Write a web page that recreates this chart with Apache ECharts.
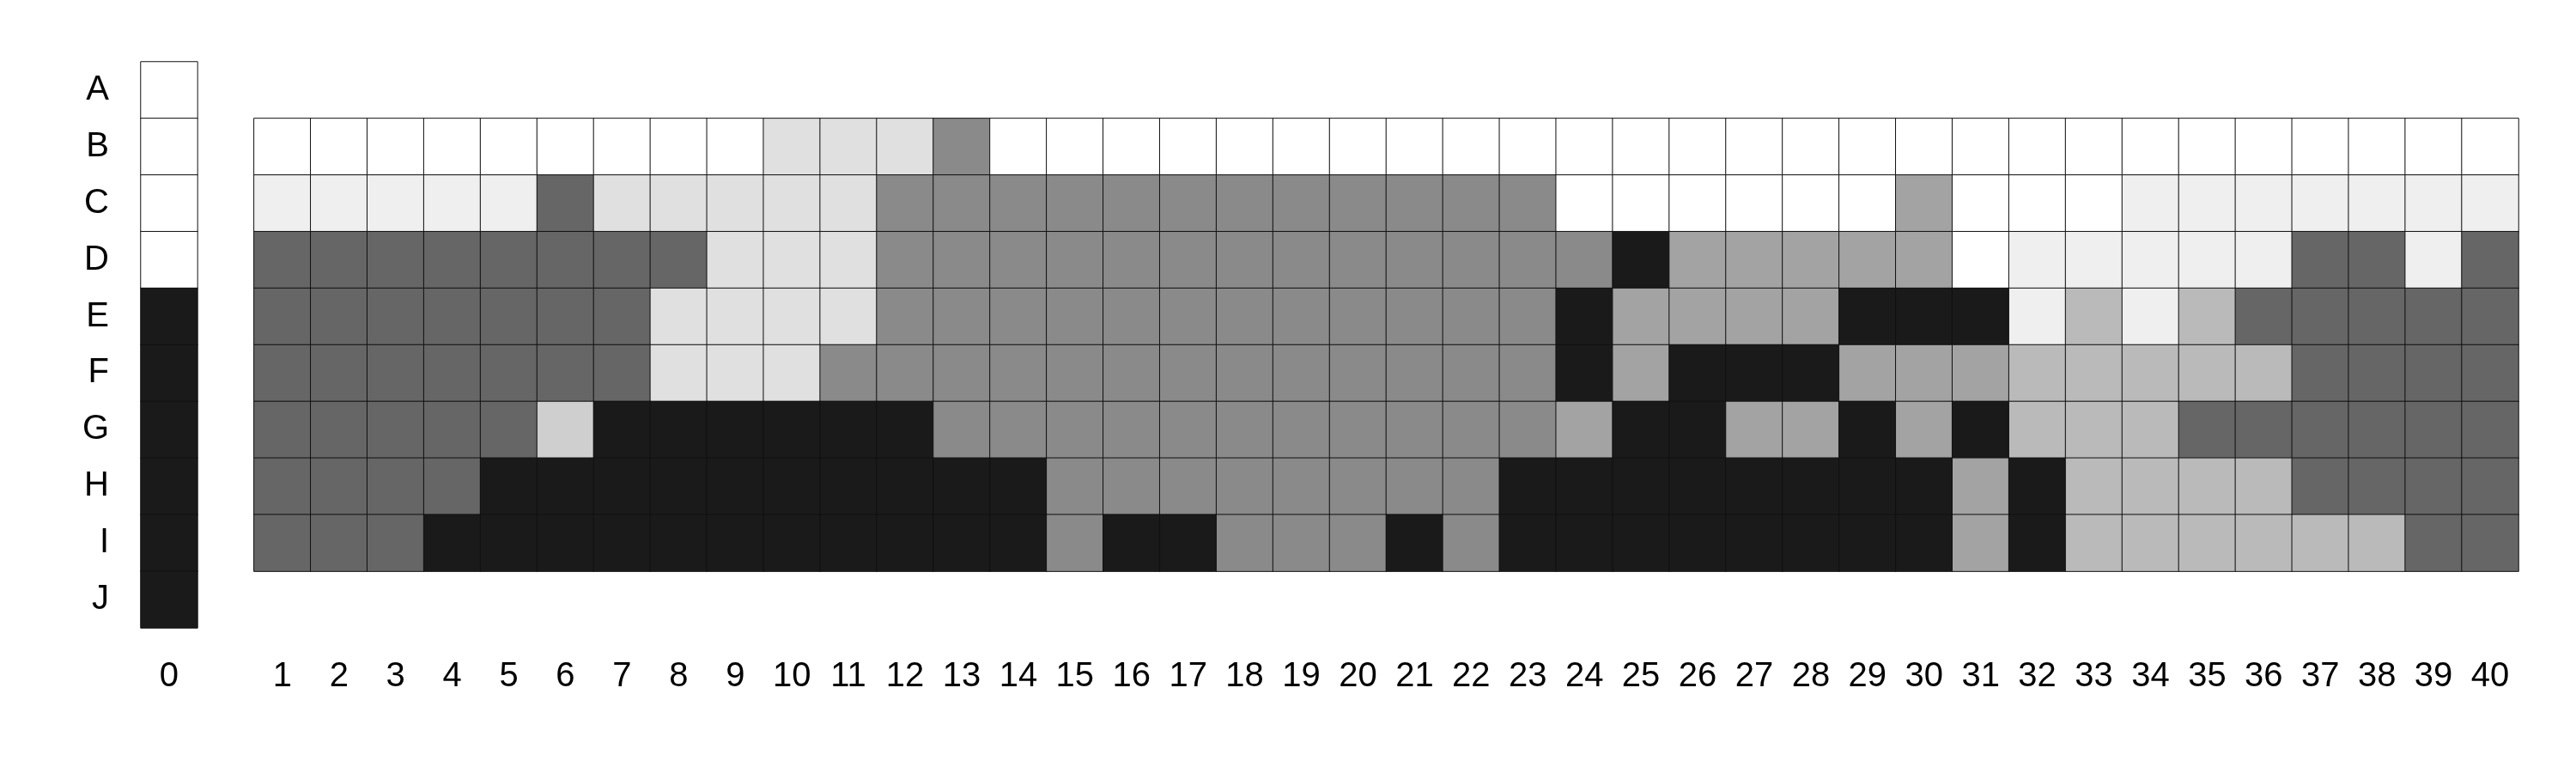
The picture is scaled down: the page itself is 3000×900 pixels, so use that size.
<!DOCTYPE html>
<html>
<head>
<meta charset="utf-8">
<script src="https://cdn.jsdelivr.net/npm/echarts@6/dist/echarts.min.js"></script>
<style>
html,body{margin:0;padding:0;background:#fff;}
#chart{width:3000px;height:900px;}
</style>
</head>
<body>
<div id="chart"></div>
<script>
// x categories: column 0, an empty spacer slot, then columns 1..40
const xLabels = ['0', '', '1','2','3','4','5','6','7','8','9','10','11','12','13','14','15','16','17','18','19','20',
  '21','22','23','24','25','26','27','28','29','30','31','32','33','34','35','36','37','38','39','40'];
const yLabels = ['A','B','C','D','E','F','G','H','I','J'];

// grey levels: 0 white ... 8 near-black
const levelColors = ['#ffffff','#efefef','#e0e0e0','#cfcfcf','#bababa','#a3a3a3','#8a8a8a','#666666','#1a1a1a'];

// column 0, rows A..J
const col0 = [0,0,0,0,8,8,8,8,8,8];

// columns 1..40 for rows B..I
const rowB = [0,0,0,0,0,0,0,0,0,2,2,2,6,0,0,0,0,0,0,0,0,0,0,0,0,0,0,0,0,0,0,0,0,0,0,0,0,0,0,0];
const rowC = [1,1,1,1,1,7,2,2,2,2,2,6,6,6,6,6,6,6,6,6,6,6,6,0,0,0,0,0,0,5,0,0,0,1,1,1,1,1,1,1];
const rowD = [7,7,7,7,7,7,7,7,2,2,2,6,6,6,6,6,6,6,6,6,6,6,6,6,8,5,5,5,5,5,0,1,1,1,1,1,7,7,1,7];
const rowE = [7,7,7,7,7,7,7,2,2,2,2,6,6,6,6,6,6,6,6,6,6,6,6,8,5,5,5,5,8,8,8,1,4,1,4,7,7,7,7,7];
const rowF = [7,7,7,7,7,7,7,2,2,2,6,6,6,6,6,6,6,6,6,6,6,6,6,8,5,8,8,8,5,5,5,4,4,4,4,4,7,7,7,7];
const rowG = [7,7,7,7,7,3,8,8,8,8,8,8,6,6,6,6,6,6,6,6,6,6,6,5,8,8,5,5,8,5,8,4,4,4,7,7,7,7,7,7];
const rowH = [7,7,7,7,8,8,8,8,8,8,8,8,8,8,6,6,6,6,6,6,6,6,8,8,8,8,8,8,8,8,5,8,4,4,4,4,7,7,7,7];
const rowI = [7,7,7,8,8,8,8,8,8,8,8,8,8,8,6,8,8,6,6,6,8,6,8,8,8,8,8,8,8,8,5,8,4,4,4,4,4,4,7,7];

const mainRows = {B: rowB, C: rowC, D: rowD, E: rowE, F: rowF, G: rowG, H: rowH, I: rowI};

const data = [];
col0.forEach((v, r) => data.push([0, r, v]));
Object.keys(mainRows).forEach(name => {
  const r = yLabels.indexOf(name);
  mainRows[name].forEach((v, c) => data.push([c + 2, r, v]));
});

const chart = echarts.init(document.getElementById('chart'), null, {renderer: 'canvas'});
chart.setOption({
  animation: false,
  backgroundColor: '#ffffff',
  grid: {left: 164, right: 67, top: 72, bottom: 169, containLabel: false},
  xAxis: {
    type: 'category',
    data: xLabels,
    axisLine: {show: false},
    axisTick: {show: false},
    splitLine: {show: false},
    axisLabel: {interval: 0, margin: 37, fontSize: 40, color: '#000', fontFamily: 'Liberation Sans'}
  },
  yAxis: {
    type: 'category',
    data: yLabels,
    inverse: true,
    axisLine: {show: false},
    axisTick: {show: false},
    splitLine: {show: false},
    axisLabel: {interval: 0, margin: 37, fontSize: 40, color: '#000', fontFamily: 'Liberation Sans'}
  },
  visualMap: {
    type: 'piecewise',
    show: false,
    dimension: 2,
    pieces: levelColors.map((c, i) => ({value: i, color: c}))
  },
  series: [{
    type: 'heatmap',
    data: data,
    itemStyle: {borderColor: '#111', borderWidth: 1},
    emphasis: {disabled: true}
  }]
});
</script>
</body>
</html>
